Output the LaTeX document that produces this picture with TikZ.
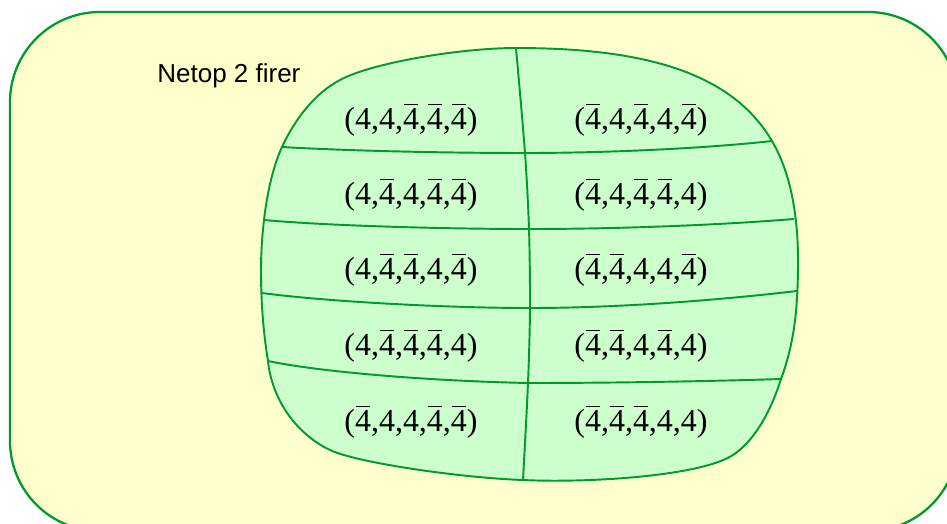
\documentclass[tikz,border=0pt]{standalone}
\usepackage{fontspec}
\setmainfont{Liberation Serif}
\newfontfamily\arialfont{Liberation Sans}
\definecolor{clusterfill}{HTML}{FFFFCC}
\definecolor{recfill}{HTML}{CCFFCC}
\definecolor{linegreen}{HTML}{009933}
\newcommand\bfour{\rlap{\hspace{0.03em}\rule[0.74em]{0.44em}{0.045em}}4}

\begin{document}
\begin{tikzpicture}[x=0.02cm, y=-0.02cm,
	every node/.style={font=\fontsize{18.2}{20}\selectfont, inner sep=0pt},
	recline/.style={draw=linegreen, line width=1.1pt}]
	\useasboundingbox (0,0) rectangle (947,524);
	\clip (0,0) rectangle (947,524);
	\filldraw[fill=clusterfill, draw=linegreen, line width=1.3pt, rounded corners=1.8cm] (10,12) rectangle (958,531);
	\node[font=\arialfont\fontsize{14.8}{16}\selectfont, anchor=base west] (title) at (157,82) {Netop 2 firer};
	\coordinate (T) at (516,48);
	\coordinate (B) at (523,480);
	\coordinate (L1) at (282,147);
	\coordinate (L2) at (264,220);
	\coordinate (L3) at (262,293);
	\coordinate (L4) at (268,361);
	\coordinate (M1) at (525,153);
	\coordinate (M2) at (529,229);
	\coordinate (M3) at (530,308);
	\coordinate (M4) at (528,383);
	\coordinate (R1) at (772,141);
	\coordinate (R2) at (794,219);
	\coordinate (R3) at (797,291);
	\coordinate (R4) at (781,379);
	\filldraw[recline, fill=recfill] (T)
		.. controls (646,48) and (732,73) .. (R1)
		.. controls (792,175) and (798,220) .. (798,260)
		.. controls (798,300) and (796,339) .. (R4)
		.. controls (770,414) and (753,442) .. (733,455)
		.. controls (699,477) and (583,483) .. (B)
		.. controls (463,478) and (357,463) .. (330,450)
		.. controls (298,435) and (272,401) .. (L4)
		.. controls (263,331) and (261,300) .. (261,270)
		.. controls (261,235) and (266,182) .. (L1)
		.. controls (295,119) and (315,93) .. (340,80)
		.. controls (371,63) and (460,48) .. (T) -- cycle;
	\draw[recline] (L1) .. controls (350,151) and (450,153) .. (M1) .. controls (600,153) and (700,149) .. (R1);
	\draw[recline] (L2) .. controls (330,226) and (450,229) .. (M2) .. controls (620,229) and (720,225) .. (R2);
	\draw[recline] (L3) .. controls (330,302) and (450,308) .. (M3) .. controls (620,308) and (720,300) .. (R3);
	\draw[recline] (L4) .. controls (320,372) and (430,381) .. (M4) .. controls (620,383) and (720,381) .. (R4);
	\draw[recline] plot[smooth] coordinates {(T) (M1) (M2) (M3) (M4) (B)};
	\node (a1) at (411,120) {(4,4,\bfour,\bfour,\bfour)};
	\node (b1) at (641,120) {(\bfour,4,\bfour,4,\bfour)};
	\node (a2) at (411,195) {(4,\bfour,4,\bfour,\bfour)};
	\node (b2) at (641,195) {(\bfour,4,\bfour,\bfour,4)};
	\node (a3) at (411,270) {(4,\bfour,\bfour,4,\bfour)};
	\node (b3) at (641,270) {(\bfour,\bfour,4,4,\bfour)};
	\node (a4) at (411,346) {(4,\bfour,\bfour,\bfour,4)};
	\node (b4) at (641,346) {(\bfour,\bfour,4,\bfour,4)};
	\node (a5) at (411,422) {(\bfour,4,4,\bfour,\bfour)};
	\node (b5) at (641,422) {(\bfour,\bfour,\bfour,4,4)};
\end{tikzpicture}
\end{document}
